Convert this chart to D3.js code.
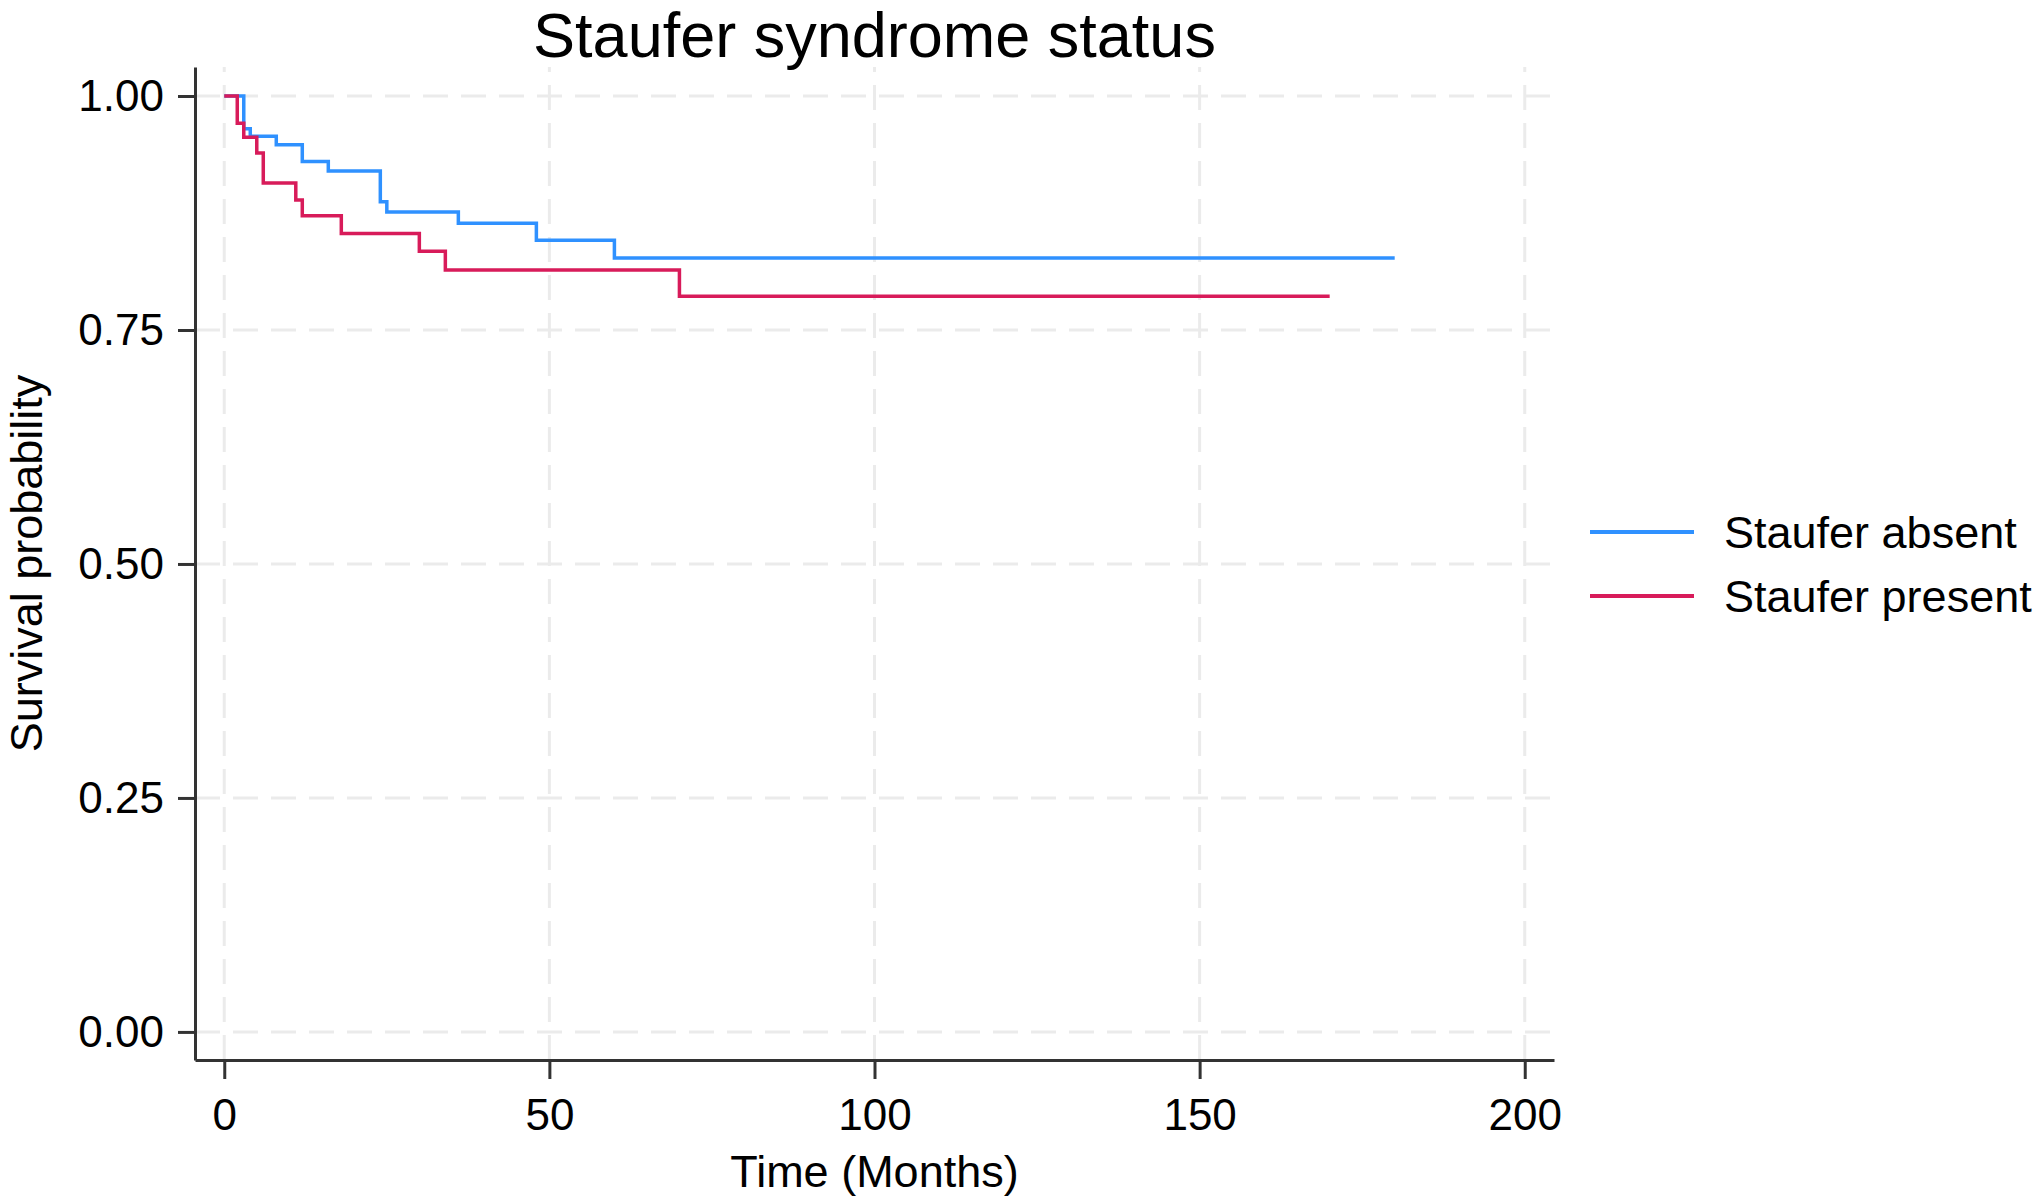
<!DOCTYPE html>
<meta charset="utf-8">
<head>
<style>
  body { margin: 0; background: #fff; }
  svg text { font-family: "Liberation Sans", Arial, sans-serif; fill: #000; }
</style>
</head>
<script src="https://d3js.org/d3.v7.min.js"></script>
<div id="chart"></div>
<script>
  // Kaplan-Meier step data
  var groups = ["Staufer absent", "Staufer present"];
  var colors = ["#2F91FF", "#D81B5A"];

  var absentTime = [0, 3, 4, 8, 12, 16, 24, 25, 36, 48, 60, 180];
  var absentSurv = [1.000, 0.965, 0.957, 0.948, 0.930, 0.920, 0.887, 0.876, 0.864, 0.846, 0.827, 0.827];

  var presentTime = [0, 2, 3, 5, 6, 11, 12, 18, 30, 34, 70, 170];
  var presentSurv = [1.000, 0.971, 0.956, 0.939, 0.907, 0.889, 0.872, 0.853, 0.834, 0.814, 0.786, 0.786];

  var xTicks = [0, 50, 100, 150, 200];
  var yTicks = [0, 0.25, 0.5, 0.75, 1];

  var width = 2033, height = 1200;
  var margin = {top: 67, right: 479, bottom: 140, left: 195};

  var svg = d3.select("#chart").append("svg")
      .attr("width", width)
      .attr("height", height);

  var x = d3.scaleLinear().domain([-4.5, 204.5]).range([margin.left, width - margin.right]);
  var y = d3.scaleLinear().domain([-0.03, 1.031]).range([height - margin.bottom, margin.top]);

  // grid
  var grid = svg.append("g")
      .attr("stroke", "#EBEBEB")
      .attr("stroke-width", 3)
      .attr("stroke-dasharray", "25,13");

  grid.selectAll(".gx").data(xTicks).join("line")
      .attr("x1", d => x(d)).attr("x2", d => x(d))
      .attr("y1", y.range()[0]).attr("y2", y.range()[1]);

  grid.selectAll(".gy").data(yTicks).join("line")
      .attr("y1", d => y(d)).attr("y2", d => y(d))
      .attr("x1", x.range()[0]).attr("x2", x.range()[1]);

  // curves
  var line = d3.line()
      .x(d => x(d[0]))
      .y(d => y(d[1]))
      .curve(d3.curveStepAfter);

  var series = [
    d3.zip(absentTime, absentSurv),
    d3.zip(presentTime, presentSurv)
  ];

  svg.append("g").selectAll("path").data(series).join("path")
      .attr("fill", "none")
      .attr("stroke", (d, i) => colors[i])
      .attr("stroke-width", 3.5)
      .attr("d", line);

  // axes
  var xAxis = svg.append("g")
      .attr("transform", "translate(0," + y.range()[0] + ")")
      .call(d3.axisBottom(x).tickValues(xTicks).tickSize(19).tickPadding(20).tickSizeOuter(0));

  var yAxis = svg.append("g")
      .attr("transform", "translate(" + x.range()[0] + ",0)")
      .call(d3.axisLeft(y).tickValues(yTicks).tickFormat(d3.format(".2f")).tickSize(17).tickPadding(14).tickSizeOuter(0));

  [xAxis, yAxis].forEach(function(a) {
    a.select(".domain").attr("stroke", "#333").attr("stroke-width", 3);
    a.selectAll(".tick line").attr("stroke", "#333").attr("stroke-width", 3);
    a.selectAll(".tick text").attr("font-size", 44).attr("fill", "#000");
  });

  // titles
  svg.append("text")
      .attr("x", (x.range()[0] + x.range()[1]) / 2)
      .attr("y", 57)
      .attr("text-anchor", "middle")
      .attr("font-size", 63)
      .text("Staufer syndrome status");

  svg.append("text")
      .attr("x", (x.range()[0] + x.range()[1]) / 2)
      .attr("y", 1187)
      .attr("text-anchor", "middle")
      .attr("font-size", 45)
      .text("Time (Months)");

  svg.append("text")
      .attr("transform", "translate(42," + (y.range()[0] + y.range()[1]) / 2 + ") rotate(-90)")
      .attr("text-anchor", "middle")
      .attr("font-size", 45)
      .text("Survival probability");

  // legend
  var legend = svg.append("g").attr("transform", "translate(1590,532)");
  var item = legend.selectAll("g").data(groups).join("g")
      .attr("transform", (d, i) => "translate(0," + i * 64 + ")");
  item.append("line")
      .attr("x1", 0).attr("x2", 104)
      .attr("stroke", (d, i) => colors[i])
      .attr("stroke-width", 4);
  item.append("text")
      .attr("x", 134)
      .attr("y", 16)
      .attr("font-size", 45)
      .text(d => d);
</script>
